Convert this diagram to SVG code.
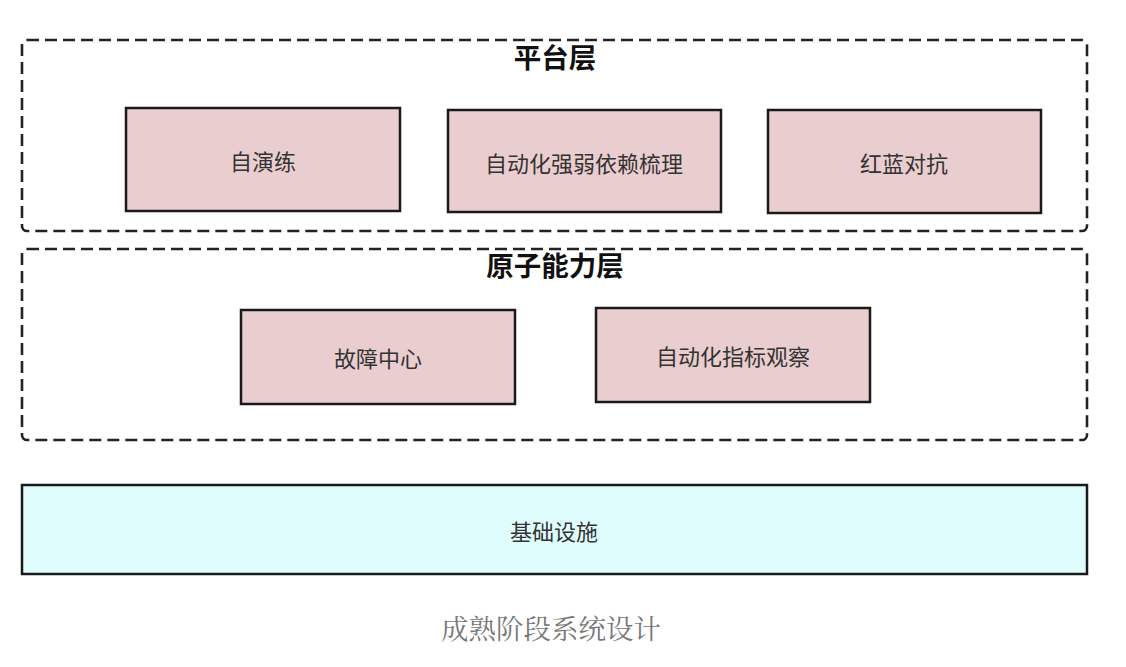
<svg xmlns="http://www.w3.org/2000/svg" width="1126" height="667" viewBox="0 0 1126 667">
<style>
.layer{fill:none;stroke:#222;stroke-width:2.6;stroke-dasharray:12 6}
.box{fill:#eacdce;stroke:#1a1a1a;stroke-width:2.5}
.infra{fill:#e0fdfe;stroke:#1a1a1a;stroke-width:2.5}
.t{font-family:"Noto Sans CJK SC","Noto Sans",sans-serif;font-size:22px;fill:#333;text-anchor:middle;dominant-baseline:central}
.h{font-family:"Noto Sans CJK SC","Noto Sans",sans-serif;font-size:27.5px;font-weight:bold;fill:#111;text-anchor:middle;dominant-baseline:central}
.cap{font-family:"Noto Serif CJK SC","Liberation Serif","Noto Sans CJK SC",serif;font-size:27.5px;fill:#777;text-anchor:middle;dominant-baseline:central}
</style>
<rect width="1126" height="667" fill="#fff"/>
<g id="platform-layer">
<rect class="layer" x="22" y="40" width="1065" height="191" rx="5"/>
<text class="h" x="555" y="55.5">平台层</text>
</g>
<g id="self-drill"><rect class="box" x="126" y="108" width="274" height="103"/><text class="t" x="263" y="159.5">自演练</text></g>
<g id="dependency"><rect class="box" x="448" y="110" width="273" height="102"/><text class="t" x="584" y="161.5">自动化强弱依赖梳理</text></g>
<g id="red-blue"><rect class="box" x="768" y="110" width="273" height="103"/><text class="t" x="904" y="161.5">红蓝对抗</text></g>
<g id="atomic-layer">
<rect class="layer" x="22" y="249" width="1065" height="191" rx="5"/>
<text class="h" x="555" y="264">原子能力层</text>
</g>
<g id="fault-center"><rect class="box" x="241" y="310" width="274" height="94"/><text class="t" x="378" y="356.5">故障中心</text></g>
<g id="metrics"><rect class="box" x="596" y="308" width="274" height="94"/><text class="t" x="733" y="354.5">自动化指标观察</text></g>
<g id="infra"><rect class="infra" x="22" y="485" width="1065" height="89"/><text class="t" x="554" y="529.5">基础设施</text></g>
<g id="connectors"></g>
<text class="cap" x="551" y="627">成熟阶段系统设计</text>
</svg>
